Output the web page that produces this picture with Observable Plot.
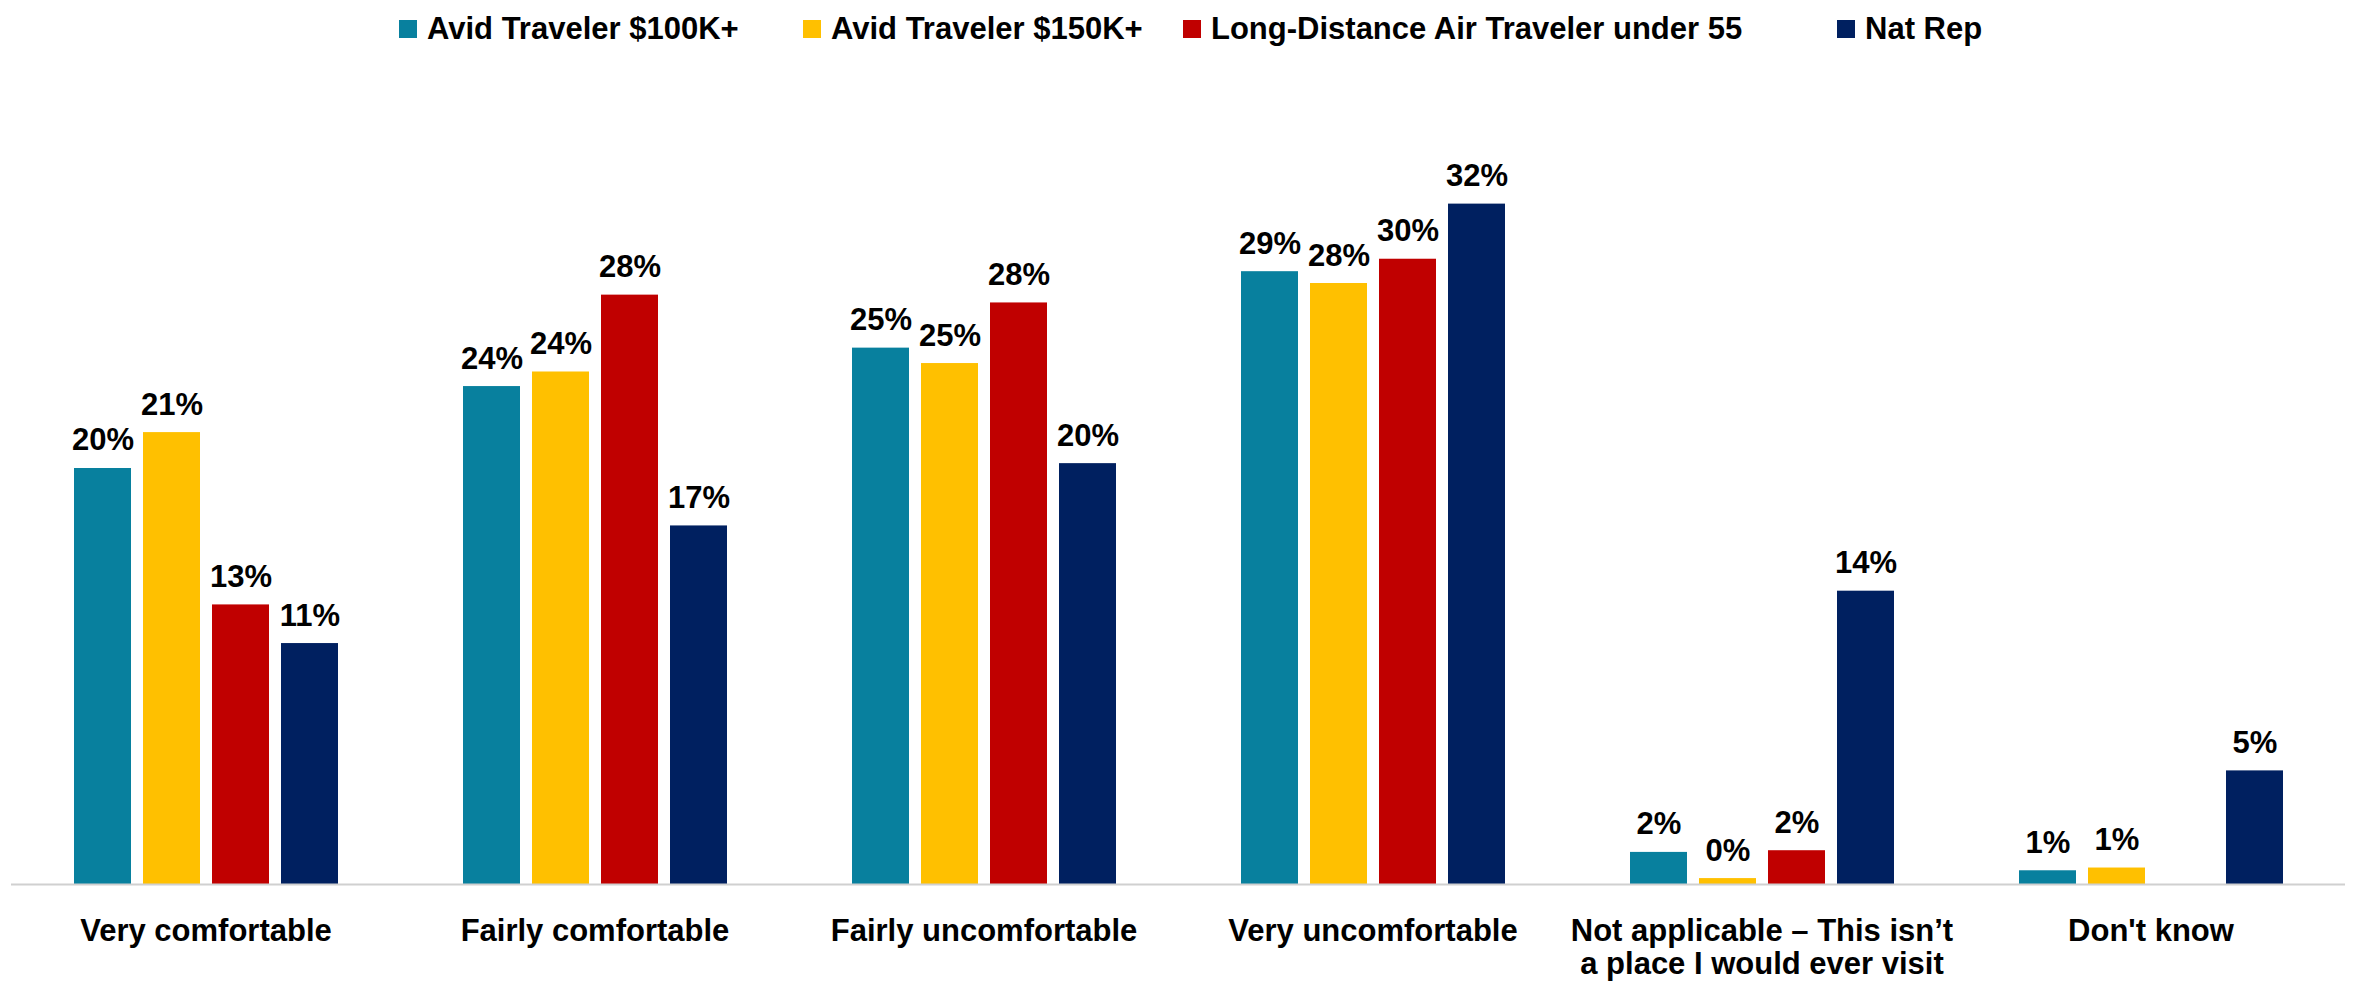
<!DOCTYPE html>
<html><head><meta charset="utf-8">
<script src="https://cdn.jsdelivr.net/npm/d3@7"></script>
<script src="https://cdn.jsdelivr.net/npm/@observablehq/plot@0.6"></script>
<style>
html,body{margin:0;padding:0;background:#fff;}
body{width:2356px;height:982px;overflow:hidden;font-family:"Liberation Sans",Arial,sans-serif;}
#legend{height:50px;box-sizing:border-box;padding-top:7px;padding-left:399px;display:flex;justify-content:flex-start;font-weight:bold;font-size:31px;line-height:30px;color:#000;}
.item{display:flex;align-items:center;gap:10px;white-space:nowrap;flex:none;}
.sw{width:18px;height:18px;flex:none;}
</style></head><body>
<div id="legend"></div><div id="chart"></div>
<script>
// Categories (x groups) and their displayed tick labels
const categories = ["Very comfortable", "Fairly comfortable", "Fairly uncomfortable", "Very uncomfortable", "Not applicable", "Don't know"];
const categoryLabels = ["Very comfortable", "Fairly comfortable", "Fairly uncomfortable", "Very uncomfortable", "Not applicable – This isn’t\na place I would ever visit", "Don't know"];
// Series
const series = ["Avid Traveler $100K+", "Avid Traveler $150K+", "Long-Distance Air Traveler under 55", "Nat Rep"];
const colors = ["#08809E", "#FFC000", "#C00000", "#002060"];
// Values (percent)
const avid100 = [19.70, 23.58, 25.40, 29.02, 1.52, 0.65];
const avid150 = [21.40, 24.27, 24.67, 28.46, 0.28, 0.78];
const longDist = [13.24, 27.91, 27.54, 29.61, 1.60, null];
const natRep  = [11.41, 16.98, 19.93, 32.22, 13.89, 5.38];

const values = [avid100, avid150, longDist, natRep];
const data = [];
categories.forEach((c, i) => series.forEach((s, j) => {
  const v = values[j][i];
  if (v != null) data.push({category: c, series: s, value: v});
}));
const labelMap = new Map(categories.map((c, i) => [c, categoryLabels[i]]));

// Legend (item widths set the swatch spacing)
const legendWidths = ["404px", "380px", "654px", "auto"];
const legend = d3.select("#legend");
series.forEach((s, i) => {
  const it = legend.append("div").attr("class", "item").style("width", legendWidths[i]);
  it.append("div").attr("class", "sw").style("background", colors[i]);
  it.append("span").text(s);
});

const chart = Plot.plot({
  width: 2356, height: 932,
  marginTop: 21, marginBottom: 98, marginLeft: 8, marginRight: 9,
  style: {fontFamily: "Liberation Sans, Arial, sans-serif", fontSize: "31px", fontWeight: "bold", color: "#000", background: "#fff", overflow: "visible"},
  fx: {domain: categories, padding: 0, label: null},
  x: {domain: series, paddingInner: 0.178, paddingOuter: 0.9, axis: null},
  y: {domain: [0, 38.5], axis: null},
  color: {domain: series, range: colors},
  marks: [
    Plot.barY(data, {fx: "category", x: "series", y: "value", fill: "series"}),
    Plot.ruleY([0], {stroke: "#d0d0d0", strokeWidth: 2}),
    Plot.text(data, {fx: "category", x: "series", y: "value", text: d => Math.round(d.value) + "%", dy: -18, lineAnchor: "bottom", fontSize: 31, fontWeight: "bold", fill: "#000"}),
    Plot.axisFx({anchor: "bottom", tickSize: 0, tickPadding: 33, fontSize: 31, fontWeight: "bold", lineHeight: 1.065, tickFormat: c => labelMap.get(c), label: null, fill: "#000"})
  ]
});
document.getElementById("chart").append(chart);
</script>
</body></html>
